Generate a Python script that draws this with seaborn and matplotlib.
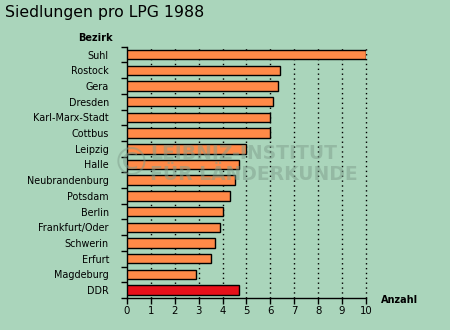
import matplotlib
matplotlib.use("Agg")
import matplotlib.pyplot as plt
import seaborn as sns
import pandas as pd
import numpy as np

bezirke = ["Suhl", "Rostock", "Gera", "Dresden", "Karl-Marx-Stadt", "Cottbus",
           "Leipzig", "Halle", "Neubrandenburg", "Potsdam", "Berlin",
           "Frankfurt/Oder", "Schwerin", "Erfurt", "Magdeburg", "DDR"]
anzahl = [10.0, 6.4, 6.3, 6.1, 6.0, 6.0, 5.0, 4.7, 4.5, 4.3, 4.0, 3.9, 3.7, 3.5, 2.9, 4.7]
gruppe = ["Bezirk"] * 15 + ["DDR"]
xticks = list(range(0, 11))

BG = "#aad5bb"
sns.set_theme(style="white")
plt.rcParams["font.family"] = ["DejaVu Sans"]

df = pd.DataFrame({"Bezirk": bezirke, "Anzahl": anzahl, "Gruppe": gruppe})

fig = plt.figure(figsize=(4.5, 3.3), dpi=100, facecolor=BG)
ax = fig.add_axes([127/450, 1-298/330, (366-127)/450, (298-46.7)/330])
ax.set_facecolor(BG)

sns.barplot(data=df, x="Anzahl", y="Bezirk", hue="Gruppe",
            palette={"Bezirk": "#ff8a48", "DDR": "#e8101a"}, saturation=1,
            dodge=False, width=0.6, edgecolor="black", linewidth=1.0,
            legend=False, ax=ax, zorder=3)

ax.set_xlim(0, 10)
ax.set_ylim(len(bezirke) - 0.5, -0.5)
ax.set_xticks(xticks)
ax.set_xticklabels([str(t) for t in xticks], fontsize=7.3, color="black")
ax.set_yticks(range(len(bezirke)))
ax.set_yticklabels(bezirke, fontsize=6.9, color="black")
ax.set_yticks(np.arange(-0.5, len(bezirke), 1.0), minor=True)
ax.tick_params(axis="y", which="major", length=0, pad=13)
ax.tick_params(axis="y", which="minor", length=4, width=1, color="black", direction="out", left=True)
ax.tick_params(axis="x", which="major", length=4, width=1, color="black", direction="out", bottom=True, pad=2)
for x in xticks[1:]:
    ax.axvline(x, color="black", linestyle=(0, (1, 2.5)), linewidth=1.0, zorder=1, clip_on=False)

for s in ["top", "right"]:
    ax.spines[s].set_visible(False)
for s in ["left", "bottom"]:
    ax.spines[s].set_color("black")
    ax.spines[s].set_linewidth(1.0)
ax.set_xlabel("")
ax.set_ylabel("")

fig.text(5/450, 1-13/330, "Siedlungen pro LPG 1988", fontsize=11.3, color="black",
         ha="left", va="center")
fig.text(113/450, 1-38/330, "Bezirk", fontsize=7, fontweight="bold", color="black",
         ha="right", va="center")
fig.text(381/450, 1-300/330, "Anzahl", fontsize=7, fontweight="bold", color="black",
         ha="left", va="center")

fig.text(150/450, 1-164/330, "LEIBNIZ-INSTITUT\nFÜR LÄNDERKUNDE", fontsize=13.5,
         fontweight="bold", color="#7f9e8c", alpha=0.5, ha="left", va="center",
         linespacing=1.15, zorder=10)
fig.text(131/450, 1-164/330, "©", fontsize=28, color="#7f9e8c", alpha=0.5,
         ha="center", va="center", zorder=10)

fig.savefig("out.png", dpi=100, facecolor=BG)
